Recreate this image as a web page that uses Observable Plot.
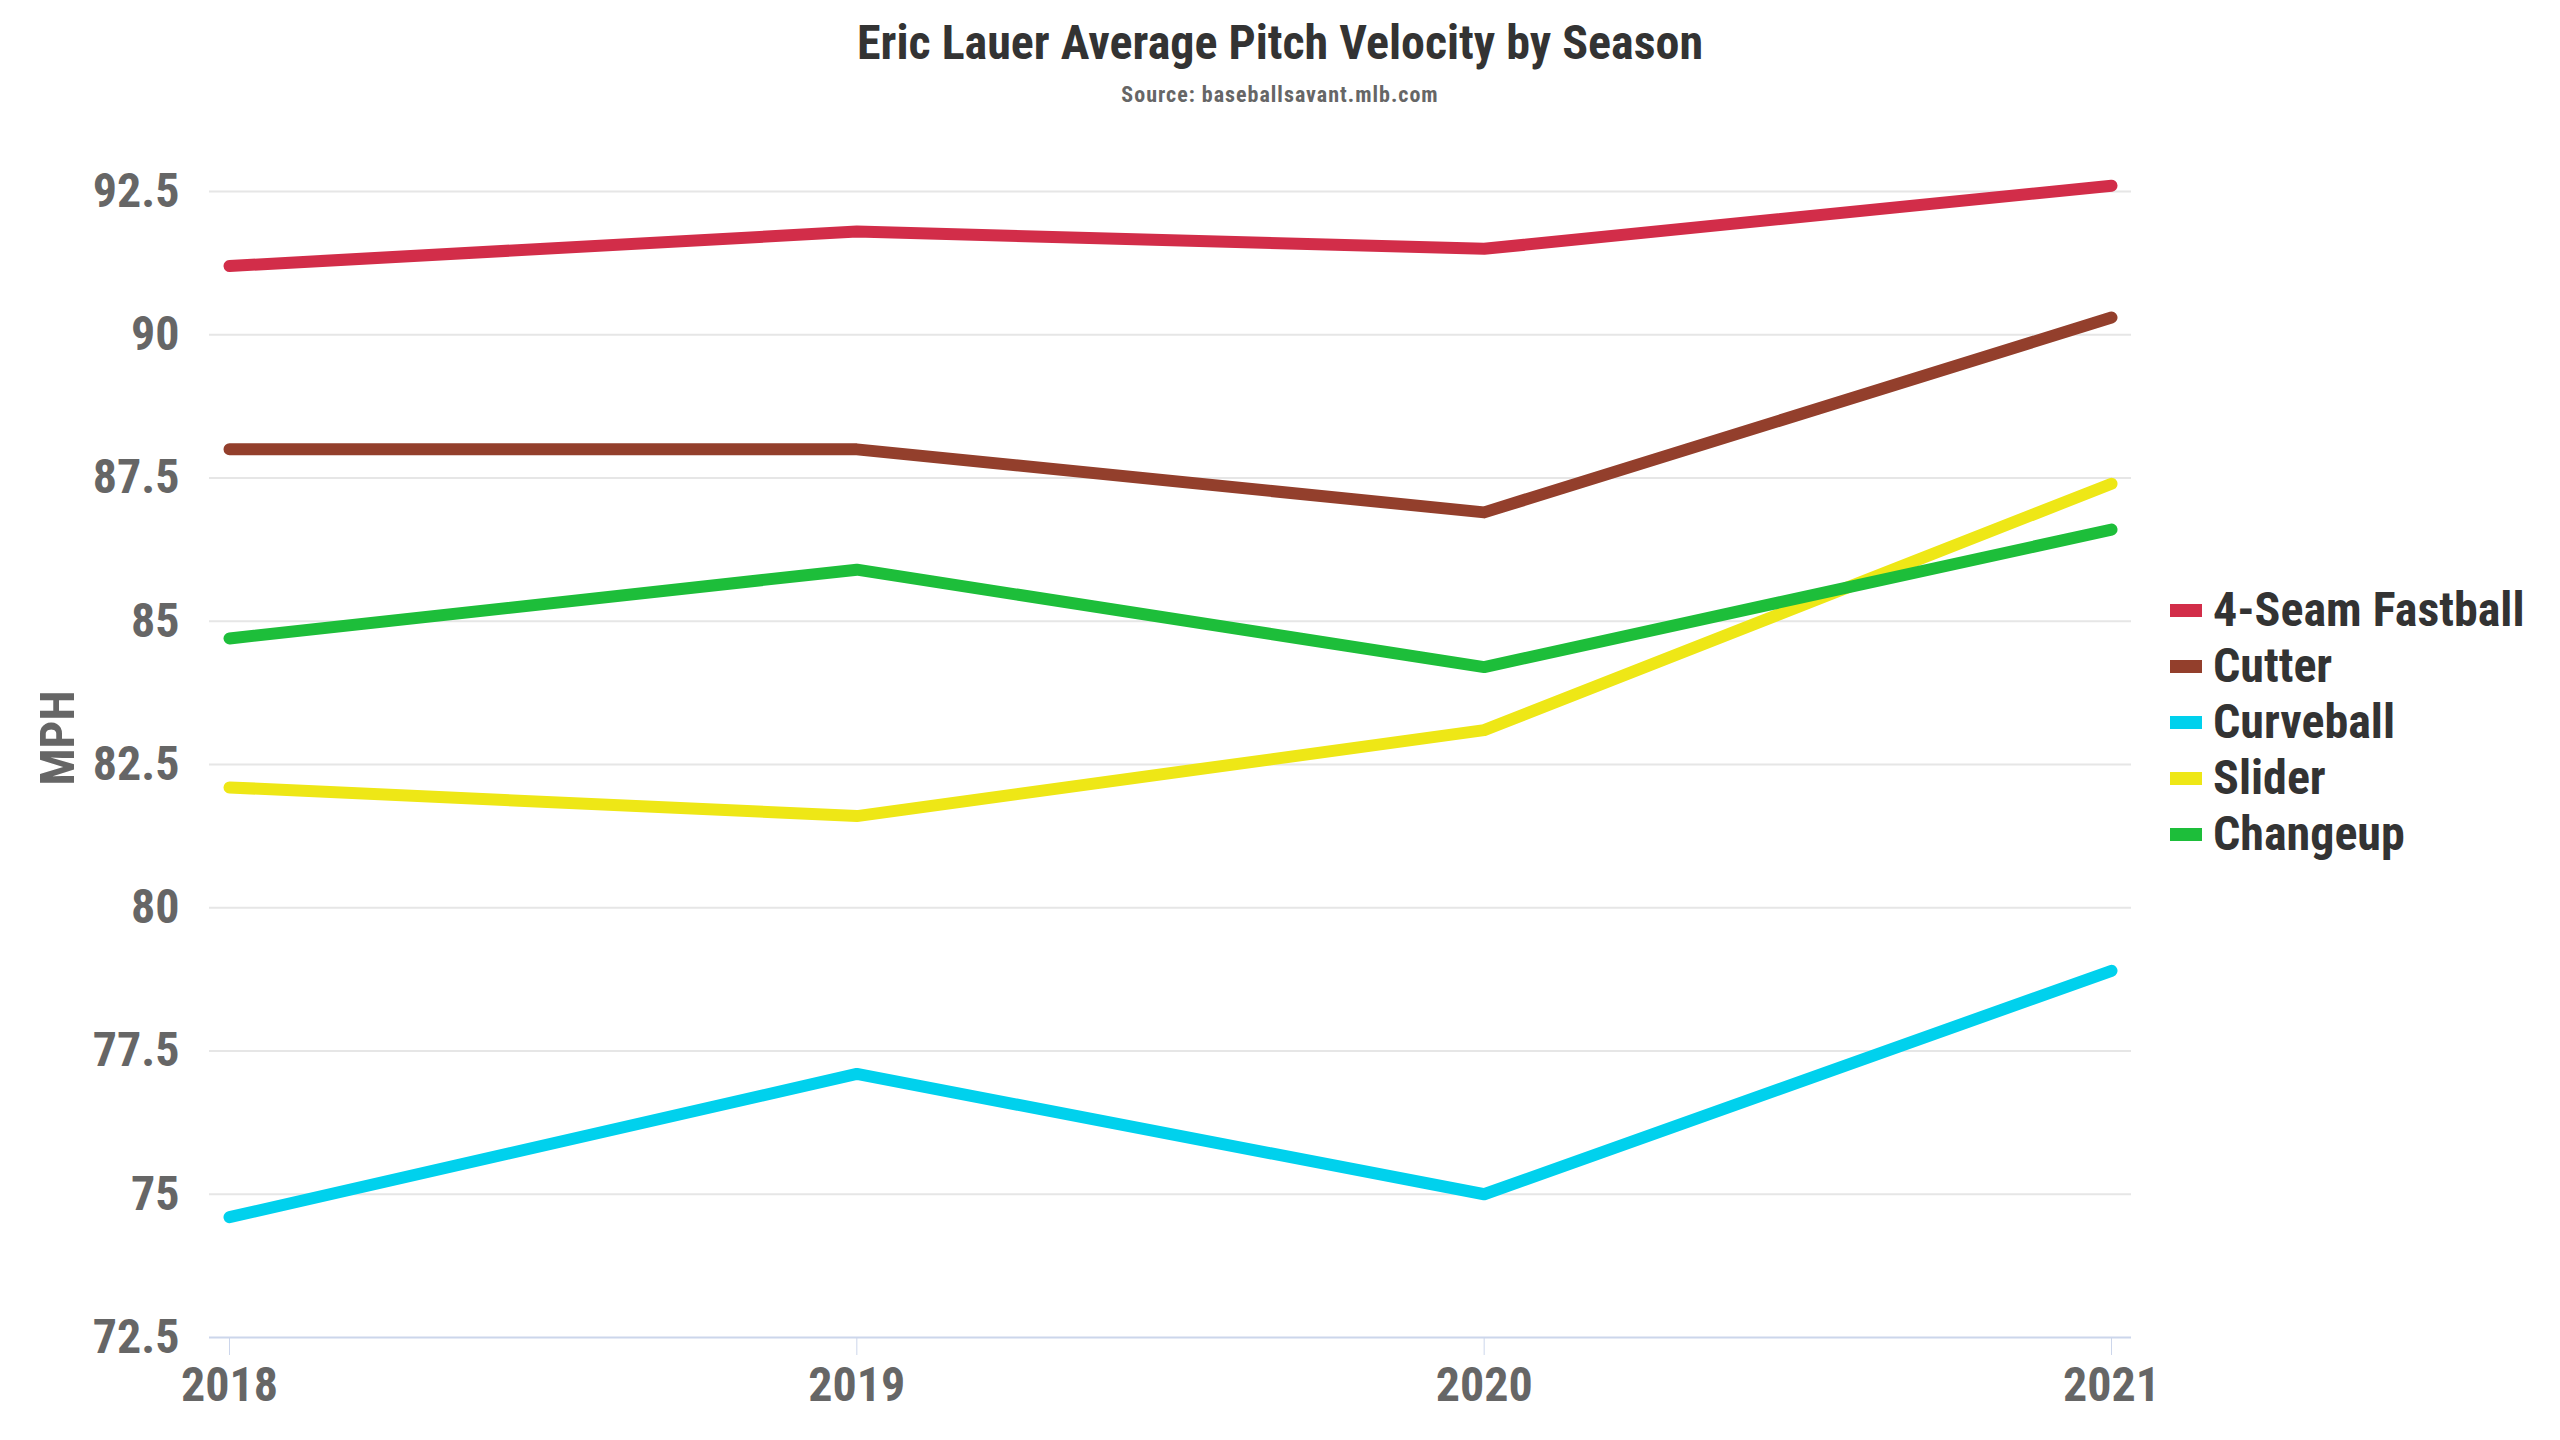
<!DOCTYPE html>
<html>
<head>
<meta charset="utf-8">
<script src="https://cdn.jsdelivr.net/npm/d3@7"></script>
<script src="https://cdn.jsdelivr.net/npm/@observablehq/plot@0.6"></script>
<style>
  html, body { margin: 0; padding: 0; background: #fff; width: 2560px; height: 1440px; overflow: hidden;
    font-family: "Roboto Condensed", Roboto, "Noto Sans", sans-serif; }
  #title { position: absolute; left: 0; width: 2560px; top: 19px; text-align: center; font-weight: 700;
    font-size: 48px; line-height: 48px; color: #333; }
  #subtitle { position: absolute; left: 0; width: 2560px; top: 84px; text-align: center; font-weight: 700;
    font-size: 22px; line-height: 22px; letter-spacing: 1px; color: #666; }
  #chart { position: absolute; left: 0; top: 110px; }
  #ylabel { position: absolute; left: 57px; top: 738px; transform: translate(-50%, -50%) rotate(-90deg);
    font-weight: 700; font-size: 49px; line-height: 49px; color: #666; white-space: nowrap; }
  #legend { position: absolute; left: 2170px; top: 582px; }
  .row { display: flex; align-items: center; height: 56px; }
  .sw { width: 32px; height: 13px; margin-right: 11px; flex: none; }
  .lt { font-weight: 700; font-size: 48px; line-height: 56px; color: #333; white-space: nowrap; }
</style>
</head>
<body>
<div id="title">Eric Lauer Average Pitch Velocity by Season</div>
<div id="subtitle">Source: baseballsavant.mlb.com</div>
<div id="chart"></div>
<div id="ylabel">MPH</div>
<div id="legend"></div>
<script>
// ---- data ----
const years = [2018, 2019, 2020, 2021];
const pitches = ["4-Seam Fastball", "Cutter", "Curveball", "Slider", "Changeup"];
const fourSeam  = [91.2, 91.8, 91.5, 92.6];
const cutter    = [88.0, 88.0, 86.9, 90.3];
const curveball = [74.6, 77.1, 75.0, 78.9];
const slider    = [82.1, 81.6, 83.1, 87.4];
const changeup  = [84.7, 85.9, 84.2, 86.6];
const yTicks = [72.5, 75, 77.5, 80, 82.5, 85, 87.5, 90, 92.5];
const colors = ["#d22d49", "#933f2c", "#00d1ed", "#eee716", "#1dbe3a"];

const series = [fourSeam, cutter, curveball, slider, changeup];
const data = pitches.flatMap((p, i) => years.map((yr, j) => ({pitch: p, year: yr, mph: series[i][j]})));

const chart = Plot.plot({
  width: 2160,
  height: 1330,
  marginTop: 81,
  marginBottom: 103,
  marginLeft: 209,
  marginRight: 29,
  style: {background: "transparent", fontFamily: "'Roboto Condensed', Roboto, sans-serif", overflow: "visible"},
  x: {domain: [years[0], years[years.length - 1]], inset: 20},
  y: {domain: [yTicks[0], yTicks[yTicks.length - 1]]},
  color: {domain: pitches, range: colors},
  marks: [
    Plot.ruleY(yTicks.slice(1), {stroke: "#e6e6e6", strokeWidth: 2}),
    Plot.ruleY([yTicks[0]], {stroke: "#ccd6eb", strokeWidth: 2}),
    Plot.axisY({ticks: yTicks, tickFormat: d => String(d), tickSize: 0, tickPadding: 30, label: null,
      fontSize: 48, fontWeight: 700, color: "#666"}),
    Plot.axisX({ticks: years, tickFormat: d => String(d), tickSize: 18, tickPadding: 11, label: null,
      fontSize: 48, fontWeight: 700, color: "#666", stroke: "#ccd6eb"}),
    Plot.line(data, {x: "year", y: "mph", z: "pitch", stroke: "pitch", strokeWidth: 12,
      strokeLinecap: "round", strokeLinejoin: "round"})
  ]
});
document.getElementById("chart").appendChild(chart);

const legend = document.getElementById("legend");
pitches.forEach((p, i) => {
  const row = document.createElement("div");
  row.className = "row";
  const sw = document.createElement("div");
  sw.className = "sw";
  sw.style.background = colors[i];
  const t = document.createElement("span");
  t.className = "lt";
  t.textContent = p;
  row.appendChild(sw);
  row.appendChild(t);
  legend.appendChild(row);
});
</script>
</body>
</html>
